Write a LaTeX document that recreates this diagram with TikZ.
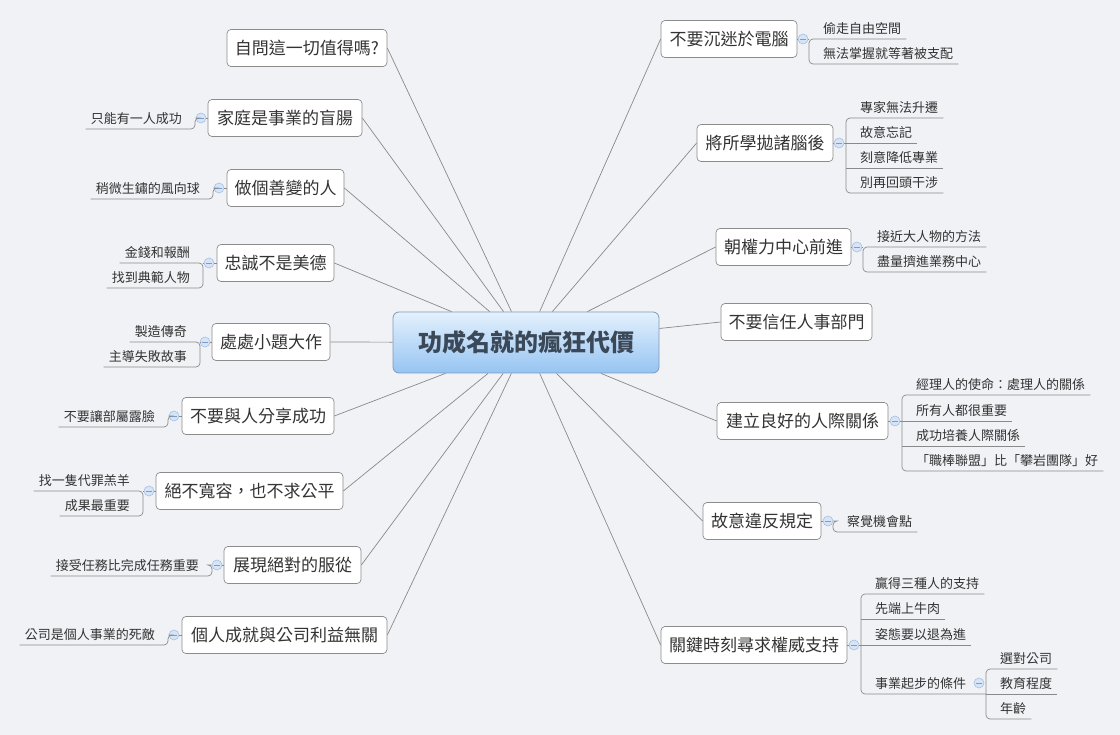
\documentclass[tikz,border=0pt]{standalone}
\usepackage{fontspec}
\setmainfont{Noto Sans CJK TC}[Script=CJK,Language=Chinese Traditional]
\definecolor{bgc}{HTML}{F1F2F6}
\definecolor{linec}{HTML}{8A8A8A}
\definecolor{boxc}{HTML}{8C8C8C}
\definecolor{txtc}{HTML}{333333}
\definecolor{roottxt}{HTML}{3A4858}
\definecolor{roottop}{HTML}{E4F1FD}
\definecolor{rootbot}{HTML}{96C4F2}
\definecolor{rootdraw}{HTML}{7E9AB8}
\definecolor{mkfill}{HTML}{D6E4F6}
\definecolor{mkdraw}{HTML}{A3BFE3}
\definecolor{mkbar}{HTML}{7C9DCB}
\begin{document}
\begin{tikzpicture}[x=1pt,y=-1pt,
  rootbox/.style={draw=rootdraw, line width=0.8pt, rounded corners=6pt, top color=roottop, bottom color=rootbot, minimum width=266pt, minimum height=61pt, font=\fontsize{24}{28}\selectfont\bfseries, text=roottxt},
  topic/.style={draw=boxc, fill=white, line width=0.7pt, rounded corners=4pt, minimum height=37pt, inner xsep=7pt, font=\fontsize{17}{20}\selectfont, text=txtc},
  leafbase/.style={inner xsep=5pt, inner ysep=0pt, text height=10pt, text depth=5.5pt, font=\fontsize{13}{15}\selectfont, text=txtc},
  lleaf/.style={leafbase, anchor=south east},
  rleaf/.style={leafbase, anchor=south west},
  conn/.style={draw=linec, line width=0.7pt},
  bracket/.style={conn, rounded corners=4pt},
  marker/.style={circle, draw=mkdraw, fill=mkfill, minimum size=10pt, inner sep=0pt, line width=0.6pt,
    path picture={\draw[mkbar, line width=0.8pt] ([xshift=-2.6pt]path picture bounding box.center) -- ([xshift=2.6pt]path picture bounding box.center);}},
]
\fill[bgc] (0,0) rectangle (1120,735);
\useasboundingbox (0,0) rectangle (1120,735);

% root
\node[rootbox] (root) at (526,342.5) {功成名就的瘋狂代價};

% left topics
\node[topic, minimum width=160pt] (L1) at (307,48) {自問這一切值得嗎?};
\node[topic, minimum width=154pt] (L2) at (285,118) {家庭是事業的盲腸};
\node[topic, minimum width=117pt] (L3) at (285.5,188) {做個善變的人};
\node[topic, minimum width=117pt] (L4) at (275.5,263) {忠誠不是美德};
\node[topic, minimum width=118pt] (L5) at (271,342) {處處小題大作};
\node[topic, minimum width=152pt] (L6) at (258,416) {不要與人分享成功};
\node[topic, minimum width=187pt] (L7) at (249.5,491) {絕不寬容，也不求公平};
\node[topic, minimum width=137pt] (L8) at (292.5,565) {展現絕對的服從};
\node[topic, minimum width=205pt] (L9) at (284.5,635) {個人成就與公司利益無關};

% right topics
\node[topic, minimum width=136pt] (R1) at (729,39) {不要沉迷於電腦};
\node[topic, minimum width=136pt] (R2) at (765,143) {將所學拋諸腦後};
\node[topic, minimum width=135pt] (R3) at (783.5,247) {朝權力中心前進};
\node[topic, minimum width=151pt] (R4) at (796.5,322) {不要信任人事部門};
\node[topic, minimum width=171pt] (R5) at (802.5,421) {建立良好的人際關係};
\node[topic, minimum width=118pt] (R6) at (762,521) {故意違反規定};
\node[topic, minimum width=186pt] (R7) at (754,645) {關鍵時刻尋求權威支持};

% bracket x positions
\coordinate (b2) at (195,0);
\coordinate (b3) at (213,0);
\coordinate (b4) at (203,0);
\coordinate (b5) at (200,0);
\coordinate (b6) at (168,0);
\coordinate (b7) at (143,0);
\coordinate (b8) at (212,0);
\coordinate (b9) at (168,0);
\coordinate (rb1) at (809,0);
\coordinate (rb2) at (846,0);
\coordinate (rb3) at (863,0);
\coordinate (rb5) at (902,0);
\coordinate (rb6) at (833,0);
\coordinate (rb7) at (861,0);
\coordinate (rb7s) at (986,0);

% left leaves
\node[lleaf] (l2a) at (187,129) {只能有一人成功};
\node[lleaf] (l3a) at (205,199) {稍微生鏽的風向球};
\node[lleaf] (l4a) at (195,263) {金錢和報酬};
\node[lleaf] (l4b) at (195,288) {找到典範人物};
\node[lleaf] (l5a) at (192,342) {製造傳奇};
\node[lleaf] (l5b) at (192,367) {主導失敗故事};
\node[lleaf] (l6a) at (160,427) {不要讓部屬露臉};
\node[lleaf] (l7a) at (135,491) {找一隻代罪羔羊};
\node[lleaf] (l7b) at (135,516) {成果最重要};
\node[lleaf] (l8a) at (204,576) {接受任務比完成任務重要};
\node[lleaf] (l9a) at (160,645) {公司是個人事業的死敵};

% right leaves
\node[rleaf] (r1a) at (818,39) {偷走自由空間};
\node[rleaf] (r1b) at (818,64) {無法掌握就等著被支配};
\node[rleaf] (r2a) at (855,118) {專家無法升遷};
\node[rleaf] (r2b) at (855,143) {故意忘記};
\node[rleaf] (r2c) at (855,168) {刻意降低專業};
\node[rleaf] (r2d) at (855,193) {別再回頭干涉};
\node[rleaf] (r3a) at (872,247) {接近大人物的方法};
\node[rleaf] (r3b) at (872,272) {盡量擠進業務中心};
\node[rleaf] (r5a) at (911,395) {經理人的使命：處理人的關係};
\node[rleaf] (r5b) at (911,421) {所有人都很重要};
\node[rleaf] (r5c) at (911,446) {成功培養人際關係};
\node[rleaf] (r5d) at (911,471) {「職棒聯盟」比「攀岩團隊」好};
\node[rleaf] (r6a) at (842,532) {察覺機會點};
\node[rleaf] (r7a) at (870,594) {贏得三種人的支持};
\node[rleaf] (r7b) at (870,619) {先端上牛肉};
\node[rleaf] (r7c) at (870,645) {姿態要以退為進};
\node[rleaf] (r7d) at (870,694) {事業起步的條件};
\node[rleaf] (r7e) at (995,669) {選對公司};
\node[rleaf] (r7f) at (995,694) {教育程度};
\node[rleaf] (r7g) at (995,719) {年齡};

% markers
\node[marker] (c2) at (201,118) {};
\node[marker] (c3) at (219,188) {};
\node[marker] (c4) at (209,263) {};
\node[marker] (c5) at (205,342) {};
\node[marker] (c6) at (174,416) {};
\node[marker] (c7) at (149,491) {};
\node[marker] (c8) at (217,565) {};
\node[marker] (c9) at (174,635) {};
\node[marker] (d1) at (803,39) {};
\node[marker] (d2) at (839,143) {};
\node[marker] (d3) at (857,247) {};
\node[marker] (d5) at (895,421) {};
\node[marker] (d6) at (828,521) {};
\node[marker] (d7) at (854,645) {};
\node[marker] (d7s) at (979,683) {};

% root connectors
\foreach \n in {L1,L2,L3,L4,L5,L6,L7,L8,L9} \draw[conn] (root) -- (\n.east);
\foreach \n in {R1,R2,R3,R4,R5,R6,R7} \draw[conn] (root) -- (\n.west);

% left groups
\draw[conn] (L2.west) -- (c2.east);
\draw[bracket] (c2.west) -- (L2.west -| b2) -- (l2a.south -| b2) -- (l2a.south west);
\draw[conn] (L3.west) -- (c3.east);
\draw[bracket] (c3.west) -- (L3.west -| b3) -- (l3a.south -| b3) -- (l3a.south west);
\draw[conn] (L4.west) -- (c4.east);
\draw[conn] (c4.west) -- (L4.west -| b4);
\draw[bracket] (l4a.south west) -- (l4a.south -| b4) -- (l4b.south -| b4) -- (l4b.south west);
\draw[conn] (L5.west) -- (c5.east);
\draw[conn] (c5.west) -- (L5.west -| b5);
\draw[bracket] (l5a.south west) -- (l5a.south -| b5) -- (l5b.south -| b5) -- (l5b.south west);
\draw[conn] (L6.west) -- (c6.east);
\draw[bracket] (c6.west) -- (L6.west -| b6) -- (l6a.south -| b6) -- (l6a.south west);
\draw[conn] (L7.west) -- (c7.east);
\draw[conn] (c7.west) -- (L7.west -| b7);
\draw[bracket] (l7a.south west) -- (l7a.south -| b7) -- (l7b.south -| b7) -- (l7b.south west);
\draw[conn] (L8.west) -- (c8.east);
\draw[bracket] (c8.west) -- (L8.west -| b8) -- (l8a.south -| b8) -- (l8a.south west);
\draw[conn] (L9.west) -- (c9.east);
\draw[bracket] (c9.west) -- (L9.west -| b9) -- (l9a.south -| b9) -- (l9a.south west);

% right groups
\draw[conn] (R1.east) -- (d1.west);
\draw[conn] (d1.east) -- (R1.east -| rb1);
\draw[bracket] (r1a.south east) -- (r1a.south -| rb1) -- (r1b.south -| rb1) -- (r1b.south east);

\draw[conn] (R2.east) -- (d2.west);
\draw[conn] (d2.east) -- (R2.east -| rb2);
\draw[bracket] (r2a.south east) -- (r2a.south -| rb2) -- (r2d.south -| rb2) -- (r2d.south east);
\draw[conn] (r2b.south -| rb2) -- (r2b.south east);
\draw[conn] (r2c.south -| rb2) -- (r2c.south east);

\draw[conn] (R3.east) -- (d3.west);
\draw[conn] (d3.east) -- (R3.east -| rb3);
\draw[bracket] (r3a.south east) -- (r3a.south -| rb3) -- (r3b.south -| rb3) -- (r3b.south east);

\draw[conn] (R5.east) -- (d5.west);
\draw[conn] (d5.east) -- (R5.east -| rb5);
\draw[bracket] (r5a.south east) -- (r5a.south -| rb5) -- (r5d.south -| rb5) -- (r5d.south east);
\draw[conn] (r5b.south -| rb5) -- (r5b.south east);
\draw[conn] (r5c.south -| rb5) -- (r5c.south east);

\draw[conn] (R6.east) -- (d6.west);
\draw[bracket] (d6.east) -- (R6.east -| rb6) -- (r6a.south -| rb6) -- (r6a.south east);

\draw[conn] (R7.east) -- (d7.west);
\draw[conn] (d7.east) -- (R7.east -| rb7);
\draw[bracket] (r7a.south east) -- (r7a.south -| rb7) -- (r7d.south -| rb7) -- (r7d.south -| rb7s);
\draw[conn] (r7b.south -| rb7) -- (r7b.south east);
\draw[conn] (r7c.south -| rb7) -- (r7c.south east);
\draw[bracket] (r7e.south east) -- (r7e.south -| rb7s) -- (r7g.south -| rb7s) -- (r7g.south east);
\draw[conn] (r7f.south -| rb7s) -- (r7f.south east);
\end{tikzpicture}
\end{document}
